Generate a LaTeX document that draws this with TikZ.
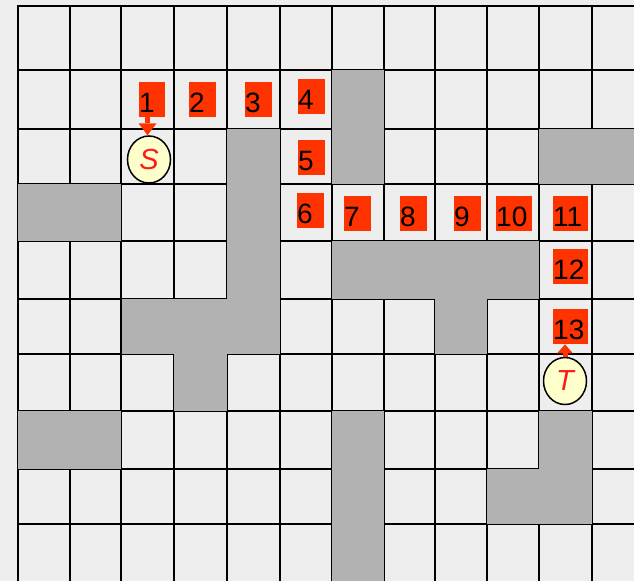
\documentclass[tikz,border=0pt]{standalone}
\usepackage{fontspec}
\setmainfont{Liberation Sans}
\usepackage{tikz}
\usetikzlibrary{arrows.meta,shapes.geometric}
\definecolor{cBack}{HTML}{EEEEEE}
\definecolor{cWall}{HTML}{B2B2B2}
\definecolor{cMark}{HTML}{FF3300}
\definecolor{cLetter}{HTML}{FF1A1A}
\definecolor{cPale}{HTML}{FFFFCC}
\tikzset{
  wall/.style={fill=cWall,draw=none},
  gline/.style={draw=black,line width=1.6pt},
  lbox/.style={fill=cMark,anchor=north west,text width=#1,align=left,inner xsep=0pt,inner ysep=0pt,
    text height=30pt,text depth=5pt,font=\fontsize{28}{30}\selectfont,text=black},
  lbox/.default=26pt,
  endpt/.style={ellipse,draw=black,line width=1.5pt,fill=cPale,minimum width=43pt,minimum height=47pt,
    inner sep=0pt,font=\fontsize{29}{32}\selectfont\itshape,text=cLetter},
  parr/.style={-{Triangle[length=12pt,width=18pt,line width=0pt]},line width=5pt,draw=cMark,fill=cMark},
}

\begin{document}
\begin{tikzpicture}[x=1pt,y=-1pt]
  \useasboundingbox (0,0) rectangle (634,581);
  \fill[cBack] (0,0) rectangle (634,581);
  % grid
  \foreach \gx in {18,70,121,174,227,280,332,384,435,487,539,592}
    \draw[gline] (\gx,6) -- (\gx,581);
  \foreach \gy in {6,70,129,184,241,299,354,411,469,524}
    \draw[gline] (17.2,\gy) -- (634,\gy);
  % walls
  \fill[wall] (332,70) rectangle (384,184);
  \fill[wall] (227,129) rectangle (280,299);
  \fill[wall] (122,299) rectangle (280,354);
  \fill[wall] (174,354) rectangle (227,411);
  \fill[wall] (18,184) rectangle (121,241);
  \fill[wall] (539,129) rectangle (634,184);
  \fill[wall] (332,241) rectangle (539,299);
  \fill[wall] (435,299) rectangle (487,354);
  \fill[wall] (18,411) rectangle (121,469);
  \fill[wall] (332,411) rectangle (384,581);
  \fill[wall] (539,411) rectangle (592,524);
  \fill[wall] (487,469) rectangle (539,524);
  % path labels
  \node[lbox] (n1) at (139,82) {1};
  \node[lbox=27pt] (n2) at (189,82) {2};
  \node[lbox=27pt] (n3) at (245,82) {3};
  \node[lbox=27pt] (n4) at (298,79) {4};
  \node[lbox=27pt] (n5) at (298,140) {5};
  \node[lbox=27pt] (n6) at (297,193) {6};
  \node[lbox=27pt] (n7) at (344,196) {7};
  \node[lbox=27pt] (n8) at (400,196) {8};
  \node[lbox=27pt] (n9) at (454,196) {9};
  \node[lbox=36pt] (n10) at (496,196) {10};
  \node[lbox=35pt] (n11) at (553,196) {11};
  \node[lbox=35pt] (n12) at (553,249) {12};
  \node[lbox=35pt] (n13) at (553,309) {13};
  % start and target
  \node[endpt] (S) at (149,159.5) {S};
  \node[endpt] (T) at (565,381) {T};
  \draw[parr] ([xshift=-1.5pt]S.north |- n1.south) -- ([xshift=-1.5pt]S.north);
  \draw[parr,-{Triangle[length=9pt,width=16pt,line width=0pt]}] (T.north) -- (T.north |- n13.south);
\end{tikzpicture}
\end{document}
